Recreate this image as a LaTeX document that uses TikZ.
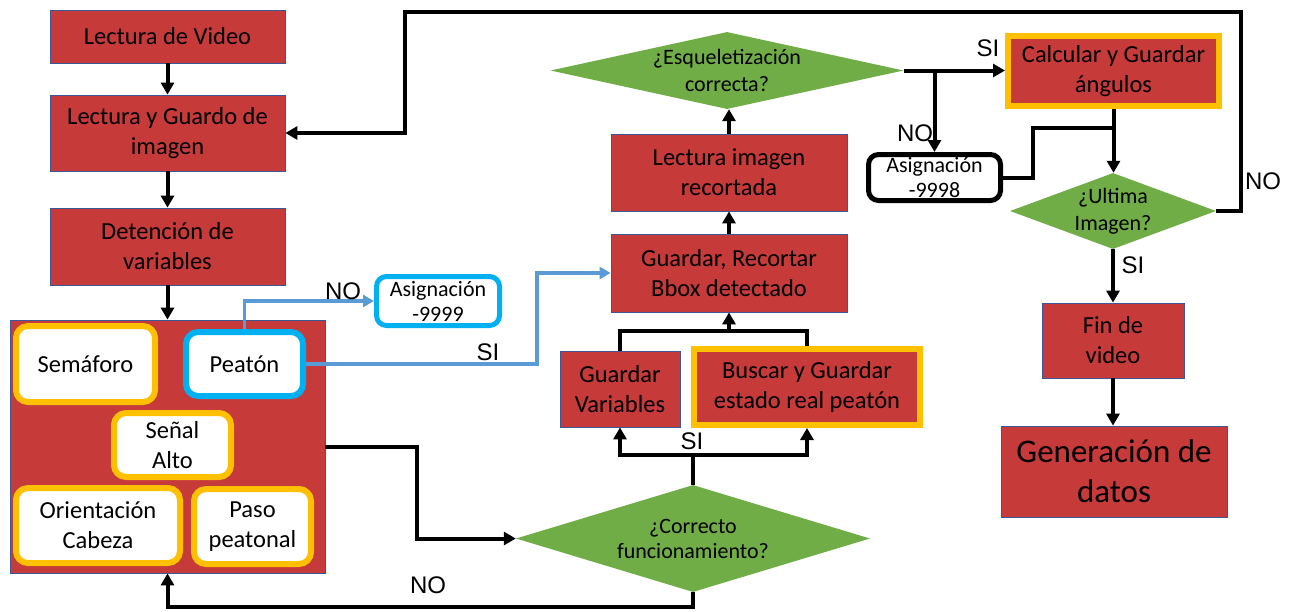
\documentclass[tikz,border=0pt]{standalone}
\usepackage{fontspec}
\setmainfont{Carlito}
\newfontfamily\labelfont{Liberation Sans}
\usetikzlibrary{shapes.geometric,arrows.meta}

\definecolor{boxred}{RGB}{198,58,58}
\definecolor{edgeblue}{RGB}{59,89,152}
\definecolor{decgreen}{RGB}{112,173,71}
\definecolor{hiorange}{RGB}{255,192,0}
\definecolor{hiblue}{RGB}{0,176,240}
\definecolor{flowblue}{RGB}{91,155,213}

\tikzset{
  redbox/.style={rectangle, fill=boxred, draw=edgeblue, line width=0.8pt,
    inner sep=0pt, align=center, font=\fontsize{24.5}{30}\selectfont},
  hibox/.style={redbox, draw=hiorange, line width=6pt},
  chip/.style={rectangle, rounded corners=12pt, fill=white, draw=hiorange,
    line width=6pt, inner sep=0pt, align=center,
    font=\fontsize{24.5}{30}\selectfont},
  bluechip/.style={chip, draw=hiblue},
  asig/.style={rectangle, rounded corners=10pt, fill=white, line width=5pt,
    inner sep=0pt, align=center, font=\fontsize{22}{25}\selectfont},
  decision/.style={diamond, fill=decgreen, draw=none, inner sep=0pt},
  dtext/.style={align=center, inner sep=0pt},
  lbl/.style={inner sep=0pt, font=\labelfont\fontsize{24}{28}\selectfont},
  flow/.style={line width=4pt, draw=black},
  arr/.style={flow, -{Triangle[width=13pt,length=12pt]}},
  bflow/.style={line width=3.5pt, draw=flowblue},
  barr/.style={bflow, -{Triangle[width=12pt,length=11pt]}},
}

\begin{document}
\begin{tikzpicture}[x=1pt,y=-1pt]
\useasboundingbox (0,0) rectangle (1293,611);

% left column
\node[redbox, minimum width=235, minimum height=53] (vid) at (167.5,36.5) {Lectura de Video};
\node[redbox, minimum width=235, minimum height=76] (lg) at (167.5,133) {Lectura y Guardo de\\imagen};
\node[redbox, minimum width=235, minimum height=77] (det) at (167.5,246.5) {Detención de\\variables};

% detected variables
\node[redbox, minimum width=315, minimum height=253] (cont) at (167.5,446.5) {};
\node[chip, minimum width=139, minimum height=76] (sem) at (85.5,364) {Semáforo};
\node[bluechip, minimum width=117, minimum height=64] (pea) at (244.5,364) {Peatón};
\node[chip, minimum width=117, minimum height=64] (sen) at (172.5,445) {Señal\\Alto};
\node[chip, minimum width=164, minimum height=75] (ori) at (98,525.5) {Orientación\\Cabeza};
\node[chip, minimum width=117, minimum height=75] (paso) at (252.5,526.5) {Paso\\peatonal};

\node[asig, draw=hiblue, minimum width=123, minimum height=49] (as1) at (438,301) {Asignación\\-9999};

% middle column
\node[redbox, minimum width=236, minimum height=78] (gr) at (729,273) {Guardar, Recortar\\Bbox detectado};
\node[redbox, minimum width=236, minimum height=77] (lir) at (729,172.5) {Lectura imagen\\recortada};
\node[decision, minimum width=353, minimum height=77] (esq) at (727,70.5) {};
\node[dtext, font=\fontsize{22}{27}\selectfont] (esqt) at (esq.center) {¿Esqueletización\\correcta?};
\node[redbox, minimum width=120, minimum height=76] (gv) at (620,389) {Guardar\\Variables};
\node[hibox, minimum width=226, minimum height=76] (bus) at (807,387) {Buscar y Guardar\\estado real peatón};
\node[decision, minimum width=354, minimum height=107] (cor) at (693,538.5) {};
\node[dtext, font=\fontsize{22}{25}\selectfont] (cort) at (cor.center) {¿Correcto\\funcionamiento?};

% right column
\node[hibox, minimum width=211, minimum height=70] (calc) at (1113.5,71) {Calcular y Guardar\\ángulos};
\node[asig, draw=black, minimum width=132, minimum height=46] (as2) at (934.5,177.5) {Asignación\\-9998};
\node[decision, minimum width=206, minimum height=76] (ult) at (1113,211) {};
\node[dtext, font=\fontsize{22}{27}\selectfont] (ultt) at (ult.center) {¿Ultima\\Imagen?};
\node[redbox, minimum width=142, minimum height=75] (fin) at (1113,340.5) {Fin de\\video};
\node[redbox, minimum width=226, minimum height=91, font=\fontsize{33}{40}\selectfont] (gen) at (1114,471.5) {Generación de\\datos};

% routing points
\coordinate (loopR) at (1241,12);
\coordinate (loopL) at (405,12);
\coordinate (sj) at (537,273);
\coordinate (cj) at (417,538.5);
\coordinate (bj) at (693,607);
\coordinate (tj) at (693,455);
\coordinate (uj) at (729,331);
\coordinate (aj) at (1033,128);

% connectors
\draw[arr] (vid) -- (lg);
\draw[arr] (lg) -- (det);
\draw[arr] (det.south) -- (det.south |- cont.north);
\draw[arr] (ult.east) -| (loopR) -- (loopL) |- (lg.east);

\draw[barr] (pea.north) |- (as1.west);
\draw[barr] (pea.east) -| (sj) -- (gr.west);

\draw[arr] (cont.east) -| (cj) -- (cor.west);
\draw[arr] (cor.south) -- (bj) -| (cont.south);
\draw[flow] (cor.north) -- (tj);
\draw[arr] (tj) -| (gv.south);
\draw[arr] (tj) -| (bus.south);
\draw[flow] (gv.north) |- (uj) -| (bus.north);
\draw[arr] (uj) -- (gr.south);
\draw[arr] (gr.north) -- (lir.south);
\draw[arr] (lir.north) -- (lir.north |- esq.south);

\draw[arr] (esq.east) -- (esq.east -| calc.west);
\draw[arr] (as2.north |- esq.east) -- (as2.north);
\draw[arr] (calc.south) -- (calc.south |- ult.north);
\draw[flow] (as2.east) -| (aj) -- (aj -| calc.south);
\draw[arr] (ult.south) -- (ult.south |- fin.north);
\draw[arr] (fin.south) -- (fin.south |- gen.north);

% branch labels
\node[lbl] (no1) at (343,291) {NO};
\node[lbl] (si1) at (488,352) {SI};
\node[lbl] (no2) at (428,585) {NO};
\node[lbl] (si2) at (692,441) {SI};
\node[lbl] (si3) at (988,48) {SI};
\node[lbl] (no3) at (915,133) {NO};
\node[lbl] (no4) at (1263,181) {NO};
\node[lbl] (si4) at (1133,265) {SI};
\end{tikzpicture}
\end{document}
